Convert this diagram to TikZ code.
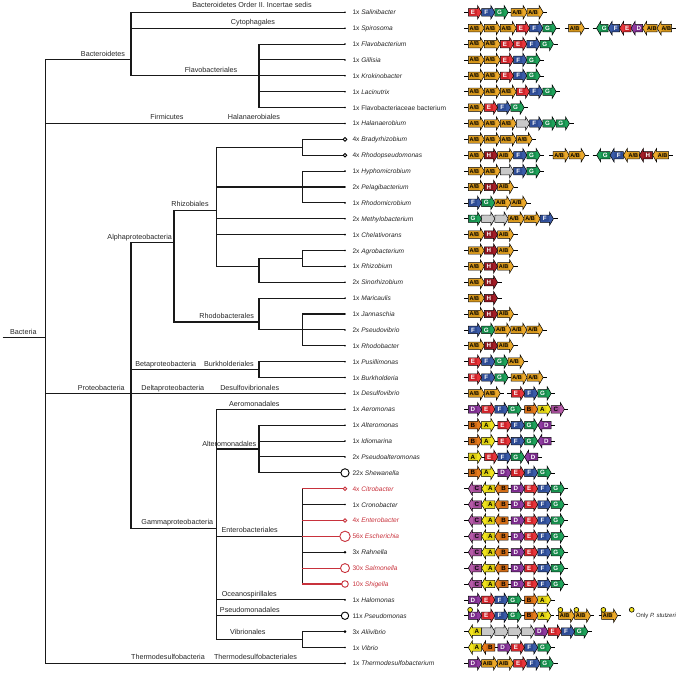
\documentclass[tikz,border=0pt]{standalone}
\usepackage{fontspec}
\setmainfont{Liberation Sans}
\definecolor{cab}{HTML}{EBA92C}\definecolor{cabbox}{HTML}{D4951A}
\definecolor{ce}{HTML}{E6353A}\definecolor{cebox}{HTML}{CF2329}
\definecolor{cf}{HTML}{3B5BA8}\definecolor{cfbox}{HTML}{2E4C95}
\definecolor{cg}{HTML}{1FA35B}\definecolor{cgbox}{HTML}{168B4B}
\definecolor{cd}{HTML}{8E3A9F}\definecolor{cdbox}{HTML}{7A2B8B}
\definecolor{ch}{HTML}{A21D27}\definecolor{chbox}{HTML}{8A141D}
\definecolor{ca}{HTML}{F1E31F}\definecolor{cabox}{HTML}{DDCF12}
\definecolor{cb}{HTML}{E67B1E}\definecolor{cbbox}{HTML}{CF6A14}
\definecolor{cc}{HTML}{B55AA8}\definecolor{ccbox}{HTML}{A04A95}
\definecolor{cgr}{HTML}{C9C9C9}\definecolor{cgrbox}{HTML}{C9C9C9}
\definecolor{tred}{HTML}{C8323C}
\definecolor{cyel}{HTML}{F2E21C}
\newcounter{gcnt}
\def\gx{0}\def\gy{0}\def\gprev{0}
\def\qhb{4}\def\qbh{3.7}\def\qhh{6.7}
\def\qsw{13.3}\def\qaw{16}
\def\ry#1{12.3+(#1-1)*15.88}
\newcommand\grow[1]{\pgfmathsetmacro\qy{\ry{#1}}\xdef\gy{\qy}\xdef\gx{468.3}\draw[bb] (464.3,\gy) -- (468.3,\gy);}
\newcommand\glin[1]{\pgfmathsetmacro\qt{\gx+#1}\draw[bb] (\gx,\gy) -- (\qt,\gy);\xdef\gx{\qt}}
\newcommand\gskip[1]{\pgfmathsetmacro\qt{\gx+#1}\xdef\gx{\qt}}
\newcommand\gR[5]{%
  \stepcounter{gcnt}%
  \pgfmathsetmacro\qa{\gx}\pgfmathsetmacro\qb{\gx+#4}\pgfmathsetmacro\qc{\qb-\qhb}%
  \pgfmathsetmacro\qm{(\qa+\qc)/2}\pgfmathsetmacro\qw{\qc-\qa-1.4}%
  \draw[gene,fill=#1] (\qa,\gy-\qbh) -- (\qc,\gy-\qbh) -- (\qc,\gy-\qhh) -- (\qb,\gy) -- (\qc,\gy+\qhh) -- (\qc,\gy+\qbh) -- (\qa,\gy+\qbh) -- cycle;
  \node[gbox,fill=#1box,minimum width=\qw pt,text=#3,font=\fontsize{#5}{6}\selectfont\bfseries] (g\arabic{gcnt}) at (\qm,\gy) {#2};
  \xdef\gprev{\qa}\xdef\gx{\qb}}
\newcommand\gL[5]{%
  \stepcounter{gcnt}%
  \pgfmathsetmacro\qa{\gx}\pgfmathsetmacro\qb{\gx+#4}\pgfmathsetmacro\qc{\qa+\qhb}%
  \pgfmathsetmacro\qm{(\qc+\qb)/2}\pgfmathsetmacro\qw{\qb-\qc-1.4}%
  \draw[gene,fill=#1] (\qb,\gy-\qbh) -- (\qc,\gy-\qbh) -- (\qc,\gy-\qhh) -- (\qa,\gy) -- (\qc,\gy+\qhh) -- (\qc,\gy+\qbh) -- (\qb,\gy+\qbh) -- cycle;
  \node[gbox,fill=#1box,minimum width=\qw pt,text=#3,font=\fontsize{#5}{6}\selectfont\bfseries] (g\arabic{gcnt}) at (\qm,\gy) {#2};
  \xdef\gprev{\qa}\xdef\gx{\qb}}
\newcommand\gAB[1][\qaw]{\gR{cab}{A/B}{black}{#1}{5.5}}
\newcommand\rAB[1][\qaw]{\gL{cab}{A/B}{black}{#1}{5.5}}
\newcommand\gE[1][\qsw]{\gR{ce}{E}{white}{#1}{6.2}}
\newcommand\rE[1][\qsw]{\gL{ce}{E}{white}{#1}{6.2}}
\newcommand\gF[1][\qsw]{\gR{cf}{F}{white}{#1}{6.2}}
\newcommand\rF[1][\qsw]{\gL{cf}{F}{white}{#1}{6.2}}
\newcommand\gG[1][\qsw]{\gR{cg}{G}{white}{#1}{6.2}}
\newcommand\rG[1][\qsw]{\gL{cg}{G}{white}{#1}{6.2}}
\newcommand\gD[1][\qsw]{\gR{cd}{D}{white}{#1}{6.2}}
\newcommand\rD[1][\qsw]{\gL{cd}{D}{white}{#1}{6.2}}
\newcommand\gH[1][\qsw]{\gR{ch}{H}{white}{#1}{6.2}}
\newcommand\rH[1][\qsw]{\gL{ch}{H}{white}{#1}{6.2}}
\newcommand\gA[1][\qsw]{\gR{ca}{A}{black}{#1}{6.2}}
\newcommand\rA[1][\qsw]{\gL{ca}{A}{black}{#1}{6.2}}
\newcommand\gB[1][\qsw]{\gR{cb}{B}{black}{#1}{6.2}}
\newcommand\rB[1][\qsw]{\gL{cb}{B}{black}{#1}{6.2}}
\newcommand\gC[1][\qsw]{\gR{cc}{C}{black}{#1}{6.2}}
\newcommand\rC[1][\qsw]{\gL{cc}{C}{black}{#1}{6.2}}
\newcommand\gX[1][\qsw]{\gR{cgr}{}{black}{#1}{6.2}}
\newcommand\ydot{\pgfmathsetmacro\qd{\gprev+1.8}\draw[ydotst] (\qd,\gy-5.9) circle[radius=2.4pt];}
\begin{document}
\begin{tikzpicture}[x=1pt,y=-1pt,
 tree/.style={line width=1.1pt, draw=black!90},
 redtree/.style={line width=1.1pt, draw=tred},
 gene/.style={draw=black, line width=0.5pt, line join=miter},
 gbox/.style={inner sep=0pt, rounded corners=1.2pt, minimum height=6pt},
 bb/.style={draw=black, line width=0.6pt},
 ydotst/.style={draw=black, fill=cyel, line width=0.6pt},
 taxlab/.style={font=\fontsize{7.2}{8}\selectfont, anchor=base, inner sep=0pt, text=black!85},
 leaflab/.style={font=\fontsize{6.6}{7}\selectfont, anchor=base west, inner sep=0pt, text=black!85},
 ]
\useasboundingbox (0,0) rectangle (688,675);
% ---------- tree coordinates ----------
\foreach \i in {1,...,42} {\coordinate (L\i) at (345,{\ry{\i}});}
\coordinate (Rt) at (45.7,{\ry{21.5}});
\coordinate (Bst) at (2.7,{\ry{21.5}});
\coordinate (Bac) at (131,{\ry{4}});
\coordinate (Fla) at (259,{\ry{5}});
\coordinate (Pro) at (131,{\ry{25}});
\coordinate (Alp) at (174,{\ry{15.5}});
\coordinate (Rhz) at (216.7,{\ry{13.5}});
\coordinate (n1) at (302.3,{\ry{9.5}});
\coordinate (n2) at (302.3,{\ry{12}});
\coordinate (n3) at (259,{\ry{17}});
\coordinate (n4) at (302.3,{\ry{16.5}});
\coordinate (Rhb) at (259,{\ry{20.5}});
\coordinate (n5) at (302.3,{\ry{21}});
\coordinate (Bet) at (259,{\ry{23.5}});
\coordinate (Gam) at (216.7,{\ry{33.5}});
\coordinate (Alt) at (259,{\ry{28.5}});
\coordinate (Ent) at (302.3,{\ry{34}});
\coordinate (Vib) at (302.3,{\ry{40.5}});
% ---------- taxon labels ----------
\node[taxlab] (t1) at (252,7.9) {Bacteroidetes Order II. Incertae sedis};
\node[taxlab] (t2) at (253,24.6) {Cytophagales};
\node[taxlab] (t3) at (103,56.6) {Bacteroidetes};
\node[taxlab] (t4) at (211,72.6) {Flavobacteriales};
\node[taxlab] (t5) at (167,119.6) {Firmicutes};
\node[taxlab] (t6) at (254,119.6) {Halanaerobiales};
\node[taxlab] (t7) at (190,206.6) {Rhizobiales};
\node[taxlab] (t8) at (139.7,239.3) {Alphaproteobacteria};
\node[taxlab] (t9) at (226.7,318.6) {Rhodobacterales};
\node[taxlab] (t10) at (165.8,366.6) {Betaproteobacteria};
\node[taxlab] (t11) at (229,366.6) {Burkholderiales};
\node[taxlab] (t12) at (101.3,390.3) {Proteobacteria};
\node[taxlab] (t13) at (172.8,390.3) {Deltaproteobacteria};
\node[taxlab] (t14) at (249.7,390.3) {Desulfovibrionales};
\node[taxlab] (t15) at (254.3,406.9) {Aeromonadales};
\node[taxlab] (t16) at (229.3,446.6) {Alteromonadales};
\node[taxlab] (t17) at (177.3,524.9) {Gammaproteobacteria};
\node[taxlab] (t18) at (249.7,532.9) {Enterobacteriales};
\node[taxlab] (t19) at (249.3,596.3) {Oceanospirillales};
\node[taxlab] (t20) at (249.8,612.3) {Pseudomonadales};
\node[taxlab] (t21) at (247.8,634.9) {Vibrionales};
\node[taxlab] (t22) at (168,659.9) {Thermodesulfobacteria};
\node[taxlab] (t23) at (255.5,659.9) {Thermodesulfobacteriales};
\node[taxlab] (t24) at (23.3,334.6) {Bacteria};
% ---------- tree ----------
\draw[tree] (Bst) -- (Rt);
\draw[tree] (Rt) |- (Bac) (Rt) |- (L8) (Rt) |- (Pro) (Rt) |- (L42);
\draw[tree] (Bac) |- (L1) (Bac) |- (L2) (Bac) |- (Fla);
\draw[tree] (Fla) |- (L3) (Fla) |- (L4) (Fla) |- (L5) (Fla) |- (L6) (Fla) |- (L7);
\draw[tree] (Pro) |- (Alp) (Pro) |- (Bet) (Pro) |- (L25) (Pro) |- (Gam);
\draw[tree] (Alp) |- (Rhz) (Alp) |- (Rhb);
\draw[tree] (Rhz) |- (n1) (Rhz) |- (n2) (Rhz) |- (L14) (Rhz) |- (L15) (Rhz) |- (n3);
\draw[tree] (n1) |- (L9) (n1) |- (L10);
\draw[tree] (n2) |- (L11) (n2) |- (L12) (n2) |- (L13);
\draw[tree] (n3) |- (n4) (n3) |- (L18);
\draw[tree] (n4) |- (L16) (n4) |- (L17);
\draw[tree] (Rhb) |- (L19) (Rhb) |- (n5);
\draw[tree] (n5) |- (L20) (n5) |- (L21) (n5) |- (L22);
\draw[tree] (Bet) |- (L23) (Bet) |- (L24);
\draw[tree] (Gam) |- (L26) (Gam) |- (Alt) (Gam) |- (Ent) (Gam) |- (L38) (Gam) |- (L39) (Gam) |- (Vib);
\draw[tree] (Alt) |- (L27) (Alt) |- (L28) (Alt) |- (L29) (Alt) |- (L30);
\draw[tree] (Ent) |- (L31) (Ent) |- (L32) (Ent) |- (L33) (Ent) |- (L34) (Ent) |- (L35) (Ent) |- (L36) (Ent) |- (L37);
\draw[tree] (Vib) |- (L40) (Vib) |- (L41);
\foreach \i in {31,33,34,36,37} {\draw[redtree] (Ent |- L\i) -- (L\i);}
% leaf markers
\foreach \i in {1,...,8,11,12,...,29,32,38,41,42} {\fill[black] (L\i) circle[radius=0.9pt];}
\foreach \i in {35,40} {\fill[black] (L\i) circle[radius=1.4pt];}
\foreach \i/\r in {9/1.8,10/1.8,30/4.1,39/3.7} {\draw[line width=0.9pt,fill=white] (L\i) circle[radius=\r pt];}
\foreach \i/\r in {31/1.8,33/1.8,34/5.2,36/4.5,37/3.3} {\draw[line width=0.9pt,draw=tred,fill=white] (L\i) circle[radius=\r pt];}
% leaf labels
\foreach \i/\n/\g in {1/1x/Salinibacter,2/1x/Spirosoma,3/1x/Flavobacterium,4/1x/Gillisia,5/1x/Krokinobacter,6/1x/Lacinutrix,8/1x/Halanaerobium,9/4x/Bradyrhizobium,10/4x/Rhodopseudomonas,11/1x/Hyphomicrobium,12/2x/Pelagibacterium,13/1x/Rhodomicrobium,14/2x/Methylobacterium,15/1x/Chelativorans,16/2x/Agrobacterium,17/1x/Rhizobium,18/2x/Sinorhizobium,19/1x/Maricaulis,20/1x/Jannaschia,21/2x/Pseudovibrio,22/1x/Rhodobacter,23/1x/Pusillimonas,24/1x/Burkholderia,25/1x/Desulfovibrio,26/1x/Aeromonas,27/1x/Alteromonas,28/1x/Idiomarina,29/2x/Pseudoalteromonas,30/22x/Shewanella,32/1x/Cronobacter,35/3x/Rahnella,38/1x/Halomonas,39/11x/Pseudomonas,40/3x/Aliivibrio,41/1x/Vibrio,42/1x/Thermodesulfobacterium}
  {\node[leaflab] (lab\i) at (352.3,{\ry{\i}+2.5}) {\n\ \textit{\g}};}
\foreach \i/\n/\g in {31/4x/Citrobacter,33/4x/Enterobacter,34/56x/Escherichia,36/30x/Salmonella,37/10x/Shigella}
  {\node[leaflab,text=tred] (lab\i) at (352.3,{\ry{\i}+2.5}) {\n\ \textit{\g}};}
\node[leaflab] (lab7) at (352.3,{\ry{7}+2.5}) {1x Flavobacteriaceae bacterium};
% ---------- gene rows ----------
\grow{1}\gE\gF\gG\glin{3}\gAB\gAB\glin{4}
\grow{2}\gAB\gAB\gAB\gE\gF\gG\glin{4}\gskip{4.3}\glin{4}\gAB\glin{4}\gskip{4}\glin{4}\rG[11.5]\rF[11.5]\rE[11.5]\rD[11.5]\rAB[14.5]\rAB[14.5]\glin{4}
\grow{3}\gAB\gAB\gE\gE\gF\gG\glin{4}
\grow{4}\gAB\gAB\gE\gF\gG\glin{4}
\grow{5}\gAB\gAB\gE\gF\gG\glin{4}
\grow{6}\gAB\gAB\gAB\gE\gF\gG\glin{4}
\grow{7}\gAB\gE\gF\gG\glin{4}
\grow{8}\gAB\gAB\gAB\gX\gF\gG\gG\glin{4}
\grow{9}\gAB\gAB\gAB\gAB\glin{4}
\grow{10}\gAB\gH\gAB\gF\gG\glin{4}\gskip{5}\glin{4}\gAB\gAB\glin{4}\gskip{3.5}\glin{4}\rG\rF\rAB\rH\rAB\glin{4}
\grow{11}\gAB\gAB\gX\gF\gG\glin{4}
\grow{12}\gAB\gH\gAB\glin{4}
\grow{13}\gF\gG\gAB\gAB\glin{4}
\grow{14}\gG\gX\gX\gAB\gAB\gF\glin{4}
\grow{15}\gAB\gH\gAB\glin{4}
\grow{16}\gAB\gH\gAB\glin{4}
\grow{17}\gAB\gH\gAB\glin{4}
\grow{18}\gAB\gH\glin{4}
\grow{19}\gAB\gH\glin{4}
\grow{20}\gAB\gH\gAB\glin{4}
\grow{21}\gF\gG\gAB\gAB\gAB\glin{4}
\grow{22}\gAB\gH\gAB\glin{4}
\grow{23}\gE\gF\gG\gAB\glin{4}
\grow{24}\gE\gF\gG\glin{3}\gAB\gAB\glin{4}
\grow{25}\gAB\gAB\glin{4}\gskip{3}\glin{4}\gE\gF\gG\glin{4}
\grow{26}\gD\gE\gF\gG\glin{3}\gB\gA\gC\glin{4}
\grow{27}\gB\gA\glin{3}\gE\gF\gG\rD\glin{4}
\grow{28}\gB\gA\glin{3}\gE\gF\gG\rD\glin{4}
\grow{29}\gA\glin{3}\gE\gF\gG\rD\glin{4}
\grow{30}\gB\gA\glin{3}\gD\gE\gF\gG\glin{4}
\foreach \k in {31,...,37} {\grow{\k}\rC\rA\rB\glin{3}\gD\gE\gF\gG\glin{4}}
\grow{38}\gD\gE\gF\gG\glin{3}\gB\gA\glin{4}
\grow{39}\gD\ydot\gE\gF\gG\glin{3}\gB\gA\glin{3}\gskip{1.5}\glin{3}\gAB\ydot\gAB\ydot\glin{3}\gskip{5}\glin{3}\gAB\ydot\glin{3}
\grow{40}\rA\gX\gX\gX\gX\gD\gE\gF\gG\glin{4}
\grow{41}\rA\rB\glin{3}\gD\gE\gF\gG\glin{4}
\grow{42}\gD\gAB\gAB\gE\gF\gG\glin{4}
% legend
\coordinate (yl) at (631.7,609.8);
\draw[ydotst] (yl) circle[radius=2.4pt];
\node[font=\fontsize{6}{7}\selectfont, anchor=base west, inner sep=0pt, text=black!85] (only) at (635.8,617.2) {Only \textit{P. stutzeri}};
\end{tikzpicture}
\end{document}
